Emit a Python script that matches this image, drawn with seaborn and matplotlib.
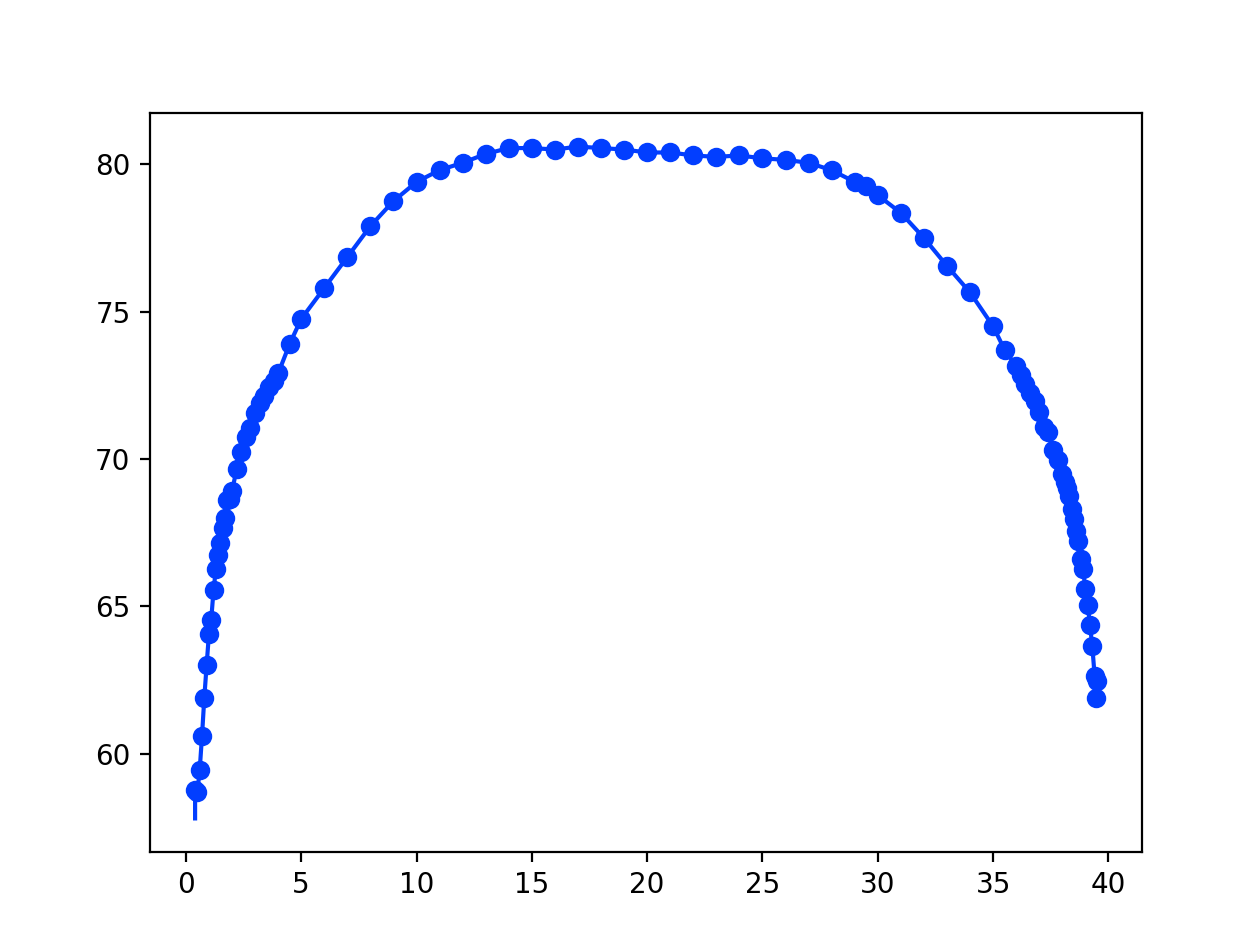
import numpy as np
import pandas as pd
import matplotlib
matplotlib.use("Agg")
import matplotlib.pyplot as plt
import seaborn as sns

x_pts = [0.4, 0.5, 0.6, 0.7, 0.8, 0.9, 1.0, 1.1, 1.2, 1.3, 1.4, 1.5, 1.6, 1.7,
         1.8, 1.9, 2.0, 2.2, 2.4, 2.6, 2.8, 3.0, 3.2, 3.4, 3.6, 3.8, 4.0, 4.5,
         5, 6, 7, 8, 9, 10, 11, 12, 13, 14, 15, 16, 17, 18, 19, 20, 21, 22,
         23, 24, 25, 26, 27, 28, 29, 29.5, 30, 31, 32, 33, 34, 35, 35.5, 36,
         36.2, 36.4, 36.6, 36.8, 37.0, 37.2, 37.4, 37.6, 37.8, 38.0, 38.1,
         38.2, 38.3, 38.4, 38.5, 38.6, 38.7, 38.8, 38.9, 39.0, 39.1, 39.2,
         39.3, 39.4, 39.5, 39.45]
y_pts = [58.75, 58.7, 59.45, 60.6, 61.9, 63.0, 64.05, 64.55, 65.55, 66.25,
         66.75, 67.15, 67.65, 68.0, 68.6, 68.65, 68.9, 69.65, 70.25, 70.75,
         71.05, 71.55, 71.9, 72.15, 72.45, 72.65, 72.9, 73.9, 74.75, 75.8,
         76.85, 77.9, 78.75, 79.4, 79.8, 80.05, 80.35, 80.55, 80.55, 80.5,
         80.6, 80.55, 80.5, 80.4, 80.4, 80.3, 80.25, 80.3, 80.2, 80.15, 80.05,
         79.8, 79.4, 79.25, 78.95, 78.35, 77.5, 76.55, 75.65, 74.5, 73.7,
         73.15, 72.85, 72.55, 72.25, 71.95, 71.6, 71.1, 70.9, 70.3, 69.95,
         69.5, 69.2, 69.0, 68.75, 68.3, 67.95, 67.55, 67.2, 66.6, 66.25,
         65.6, 65.05, 64.35, 63.65, 62.65, 62.45, 61.9]

# the line starts a little below the first marker
x_line = [0.4] + x_pts
y_line = [57.8] + y_pts

blue = sns.color_palette("bright")[0]

fig = plt.figure(figsize=(6.19, 4.69), dpi=200)
fig.subplots_adjust(left=150 / 1238, right=1142 / 1238,
                    bottom=1 - 852 / 938, top=1 - 113 / 938)
ax = fig.add_subplot(111)

# connecting line
sns.lineplot(x=x_line, y=y_line, sort=False, estimator=None,
             color=blue, linewidth=1.5, ax=ax)
# markers
sns.lineplot(x=x_pts, y=y_pts, sort=False, estimator=None, color=blue,
             linestyle="", marker="o", markersize=6, markeredgewidth=1,
             markeredgecolor=blue, ax=ax)

ax.set_xticks([0, 5, 10, 15, 20, 25, 30, 35, 40])
ax.set_yticks([60, 65, 70, 75, 80])

fig.savefig("out.png", dpi=200)
